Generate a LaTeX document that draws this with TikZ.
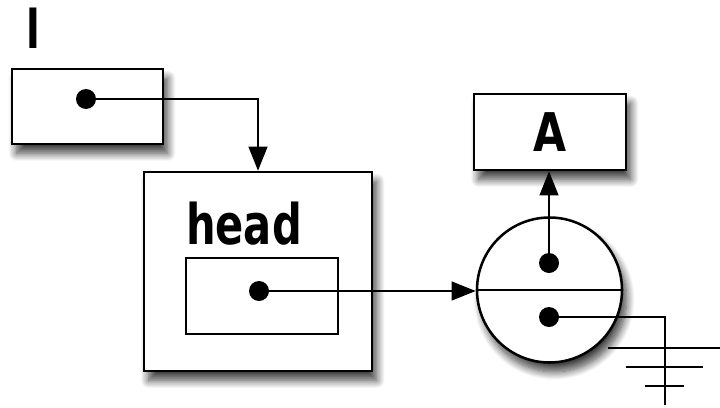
\documentclass[tikz,border=0pt]{standalone}
\usepackage{fontspec}
\newfontfamily\hand{DejaVu Sans}
\usetikzlibrary{shadows.blur,arrows.meta}
\begin{document}
\begin{tikzpicture}[x=0.75pt,y=-0.75pt,
  box/.style={draw,line width=1.9pt,fill=white,inner sep=0pt},
  shbox/.style={box,blur shadow={shadow xshift=3.5pt,shadow yshift=-7pt,shadow blur steps=12,shadow blur radius=6pt,shadow opacity=75}},
  dot/.style={circle,fill=black,inner sep=0pt,minimum size=15pt},
  conn/.style={line width=1.6pt},
  arr/.style={conn,-{Triangle[length=18pt,width=14pt]}},
  lbl/.style={font=\hand\bfseries\fontsize{40}{40}\selectfont,inner sep=0pt}]
\useasboundingbox (0,0) rectangle (720,407);
% boxes
\node[shbox,minimum width=113.25pt,minimum height=56.25pt] (lbox) at (87.5,106.5) {};
\node[shbox,minimum width=171pt,minimum height=149.25pt] (head) at (258,271.5) {};
\node[box,minimum width=114pt,minimum height=57pt] (inner) at (262,296) {};
\node[shbox,minimum width=114pt,minimum height=57pt] (abox) at (550,132) {};
\node[shbox,circle,minimum size=108.75pt] (cell) at (549.5,290) {};
\draw[line width=1.9pt] (cell.west) -- (cell.east);
% texts
\node[lbl,xscale=0.75] (lname) at (33,28) {l};
\node[lbl,xscale=0.78,yscale=1.05] (hname) at (244,224) {head};
\node[lbl,xscale=0.8] (aname) at (abox.center) {A};
% dots
\node[dot] (ldot) at (86,99) {};
\node[dot] (hdot) at (259,291) {};
\node[dot] (udot) at (549,263) {};
\node[dot] (bdot) at (549,317) {};
% ground
\coordinate (gcorner) at (665,317);
\coordinate (gend) at (665,405);
\coordinate (g1a) at (608,348); \coordinate (g1b) at (720,348);
\coordinate (g2a) at (626,367); \coordinate (g2b) at (703,367);
\coordinate (g3a) at (645,386); \coordinate (g3b) at (684,386);
% connectors
\draw[arr] (ldot.center) -| (head.north);
\draw[arr] (hdot.center) -- (hdot -| cell.west);
\draw[arr] (udot.center) -- (udot |- abox.south);
\draw[conn] (bdot.center) -- (gcorner) -- (gend);
\draw[conn] (g1a) -- (g1b);
\draw[conn] (g2a) -- (g2b);
\draw[conn] (g3a) -- (g3b);
\end{tikzpicture}
\end{document}
